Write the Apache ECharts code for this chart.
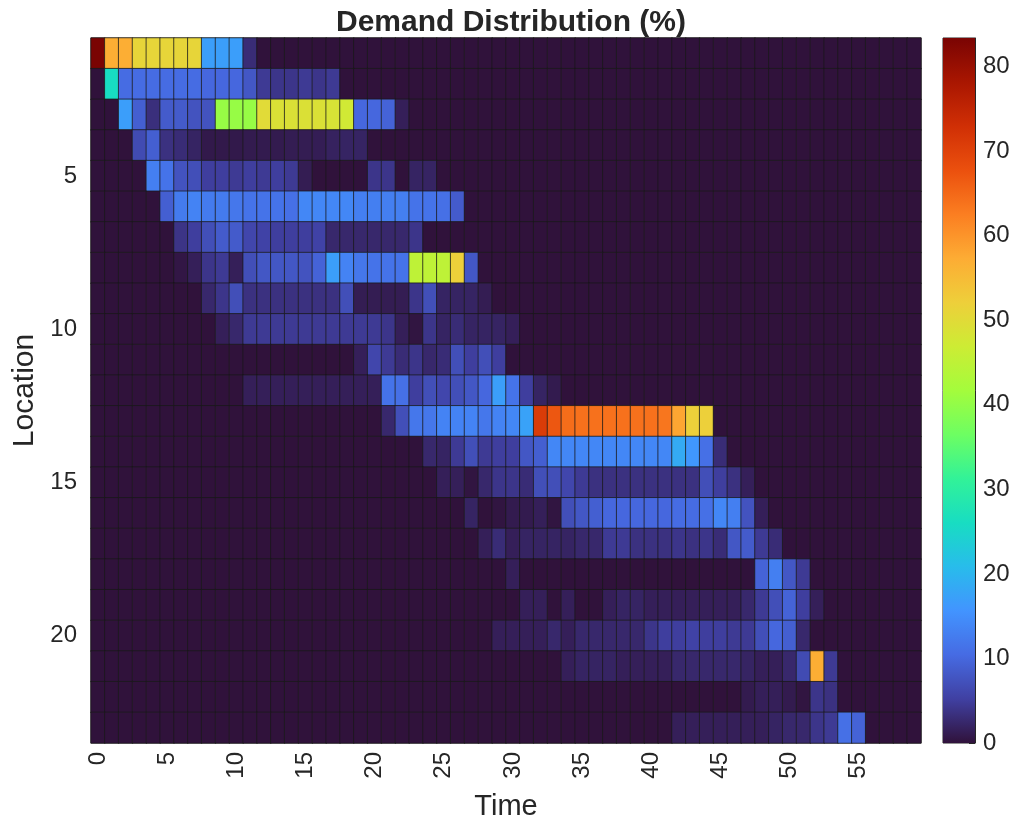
<!DOCTYPE html>
<html><head><meta charset="utf-8">
<script src="https://cdn.jsdelivr.net/npm/echarts@6/dist/echarts.min.js"></script>
<style>html,body{margin:0;padding:0;background:#fff}#chart{width:1025px;height:826px}</style>
</head><body><div id="chart"></div>
<script>
// ---- categories ----
const times = ['0','1','2','3','4','5','6','7','8','9','10','11','12','13','14','15','16','17','18','19',
  '20','21','22','23','24','25','26','27','28','29','30','31','32','33','34','35','36','37','38','39',
  '40','41','42','43','44','45','46','47','48','49','50','51','52','53','54','55','56','57','58','59'];
const locations = ['1','2','3','4','5','6','7','8','9','10','11','12','13','14','15','16','17','18','19','20','21','22','23'];
const colorTicks = [0,10,20,30,40,50,60,70,80];
const colorMax = 83.4;

// ---- demand (%) per location, time 0..59 ----
const loc01 = [83.4,57,57,51,51,51,51,51,17,17, 17,3,0,0,0,0,0,0,0,0, 0,0,0,0,0,0,0,0,0,0, 0,0,0,0,0,0,0,0,0,0, 0,0,0,0,0,0,0,0,0,0, 0,0,0,0,0,0,0,0,0,0];
const loc02 = [0,26,10.5,10.5,10.5,10.5,10.5,10.5,10,10, 10,8,4.5,4,4,4.5,4,4.5,0,0, 0,0,0,0,0,0,0,0,0,0, 0,0,0,0,0,0,0,0,0,0, 0,0,0,0,0,0,0,0,0,0, 0,0,0,0,0,0,0,0,0,0];
const loc03 = [0,0,17,9,3.3,8.5,8.5,7.5,7.5,40.5, 40.5,40.5,50,49,49,49,49,48.5,47.5,10, 10,9.5,1.5,0,0,0,0,0,0,0, 0,0,0,0,0,0,0,0,0,0, 0,0,0,0,0,0,0,0,0,0, 0,0,0,0,0,0,0,0,0,0];
const loc04 = [0,0,0,6.5,9,3.5,3,2,0.8,0.8, 0.8,1,1,1,1.2,1.2,1.3,1.8,2,2, 0,0,0,0,0,0,0,0,0,0, 0,0,0,0,0,0,0,0,0,0, 0,0,0,0,0,0,0,0,0,0, 0,0,0,0,0,0,0,0,0,0];
const loc05 = [0,0,0,0,13,11.5,7.5,7,5,5, 4.5,5,4.5,5,4.5,1.2,0,0,0,0, 4,4,0,2,2,0,0,0,0,0, 0,0,0,0,0,0,0,0,0,0, 0,0,0,0,0,0,0,0,0,0, 0,0,0,0,0,0,0,0,0,0];
const loc06 = [0,0,0,0,0,9,12.5,13.5,12.5,12.5, 12,11.5,11.5,11.5,11,14,14,14,14,13, 13,13,13,11.5,11.5,11,8.5,0,0,0, 0,0,0,0,0,0,0,0,0,0, 0,0,0,0,0,0,0,0,0,0, 0,0,0,0,0,0,0,0,0,0];
const loc07 = [0,0,0,0,0,0,3.8,5,7,8.5, 8.5,6,5.5,5,5,5,5.5,2.5,2.5,2.5, 2.5,2.5,2.5,4,0,0,0,0,0,0, 0,0,0,0,0,0,0,0,0,0, 0,0,0,0,0,0,0,0,0,0, 0,0,0,0,0,0,0,0,0,0];
const loc08 = [0,0,0,0,0,0,0.5,1.5,4,4.5, 1.5,7,8,8,8,7.5,9.5,17,13.5,12, 11.5,11.5,11.5,45,45,45,52,8,0,0, 0,0,0,0,0,0,0,0,0,0, 0,0,0,0,0,0,0,0,0,0, 0,0,0,0,0,0,0,0,0,0];
const loc09 = [0,0,0,0,0,0,0,0,2.5,4, 7,3.5,3.5,3.5,3.5,3.5,3.5,3.5,7,1.2, 1.2,1.2,1.2,4,7,2,2,2,1.2,0, 0,0,0,0,0,0,0,0,0,0, 0,0,0,0,0,0,0,0,0,0, 0,0,0,0,0,0,0,0,0,0];
const loc10 = [0,0,0,0,0,0,0,0,0,1.5, 2.5,4.5,4.5,4.5,4.5,4.5,4.5,4.5,4.5,4.5, 4.5,4,1.5,0.3,4,2,3,2,2,2, 1.5,0,0,0,0,0,0,0,0,0, 0,0,0,0,0,0,0,0,0,0, 0,0,0,0,0,0,0,0,0,0];
const loc11 = [0,0,0,0,0,0,0,0,0,0, 0,0,0,0,0,0,0,0,0,1.5, 6,4.5,3,4,2.5,3,7,5,7,5, 0,0,0,0,0,0,0,0,0,0, 0,0,0,0,0,0,0,0,0,0, 0,0,0,0,0,0,0,0,0,0];
const loc12 = [0,0,0,0,0,0,0,0,0,0, 0,1.5,1.5,1.5,1.5,1.5,1.5,1.5,1.5,1.5, 1.5,11.5,11,5,7,6,7,8,10,17, 11.5,5,2,1,0,0,0,0,0,0, 0,0,0,0,0,0,0,0,0,0, 0,0,0,0,0,0,0,0,0,0];
const loc13 = [0,0,0,0,0,0,0,0,0,0, 0,0,0,0,0,0,0,0,0,0, 0,2.5,7,12,12,13.5,13.5,13.5,12,13.5, 14,17.5,71,67,64.5,64,64,64,64,64, 64,63.5,58,52,52,0,0,0,0,0, 0,0,0,0,0,0,0,0,0,0];
const loc14 = [0,0,0,0,0,0,0,0,0,0, 0,0,0,0,0,0,0,0,0,0, 0,0,0,0,2.5,2,4.5,7,4.5,5, 5,8,9,14,14,14,14,14,14,14, 14,14,18.5,16,11,3,0,0,0,0, 0,0,0,0,0,0,0,0,0,0];
const loc15 = [0,0,0,0,0,0,0,0,0,0, 0,0,0,0,0,0,0,0,0,0, 0,0,0,0,0,1.5,1.5,0.3,2.5,4, 4,3,7,7,6,4.5,3.5,3.5,3.5,3.5, 3.5,3.5,3.5,3.5,7,5,3.5,1.5,0,0, 0,0,0,0,0,0,0,0,0,0];
const loc16 = [0,0,0,0,0,0,0,0,0,0, 0,0,0,0,0,0,0,0,0,0, 0,0,0,0,0,0,0,2,0,0.3, 1,1,1.5,0.3,7,8,9,10,10,10, 10,10,10.5,10.5,11,14,13,7.5,1.5,0, 0,0,0,0,0,0,0,0,0,0];
const loc17 = [0,0,0,0,0,0,0,0,0,0, 0,0,0,0,0,0,0,0,0,0, 0,0,0,0,0,0,0,0,1.5,3, 1.5,2,2,2,2,2.5,2.5,4.5,4.5,3.5, 3.5,3.5,4,3.5,4,3,8,8.5,4.5,3, 0,0,0,0,0,0,0,0,0,0];
const loc18 = [0,0,0,0,0,0,0,0,0,0, 0,0,0,0,0,0,0,0,0,0, 0,0,0,0,0,0,0,0,0,0, 1.5,0,0,0,0,0,0,0,0,0, 0,0,0,0,0,0,0,0,9.5,13, 8,4.5,0,0,0,0,0,0,0,0];
const loc19 = [0,0,0,0,0,0,0,0,0,0, 0,0,0,0,0,0,0,0,0,0, 0,0,0,0,0,0,0,0,0,0, 0,1.5,1.5,0,1.5,0,0,1.5,2,2, 1.5,1.5,1.5,1.5,1.5,1.5,1.5,2.5,4.5,7, 9.5,5,1.5,0,0,0,0,0,0,0];
const loc20 = [0,0,0,0,0,0,0,0,0,0, 0,0,0,0,0,0,0,0,0,0, 0,0,0,0,0,0,0,0,0,1.5, 1.5,1.5,1.5,2.5,1.5,2.5,2.5,2.5,2.5,2.5, 4,5,5,5.5,5,5,4.5,4.5,7,10, 9,2.5,0,0,0,0,0,0,0,0];
const loc21 = [0,0,0,0,0,0,0,0,0,0, 0,0,0,0,0,0,0,0,0,0, 0,0,0,0,0,0,0,0,0,0, 0,0,0,0,1.5,2,2,2,1.5,1.5, 1.5,1.5,2.5,2.5,2.5,2.5,2.5,2,1.5,1.5, 2.5,6.5,57,4.5,0,0,0,0,0,0];
const loc22 = [0,0,0,0,0,0,0,0,0,0, 0,0,0,0,0,0,0,0,0,0, 0,0,0,0,0,0,0,0,0,0, 0,0,0,0,0,0,0,0,0,0, 0,0,0,0,0,0,0,1,1.5,1.5, 1,0.3,4,3.5,0,0,0,0,0,0];
const loc23 = [0,0,0,0,0,0,0,0,0,0, 0,0,0,0,0,0,0,0,0,0, 0,0,0,0,0,0,0,0,0,0, 0,0,0,0,0,0,0,0,0,0, 0,0,1.5,1.5,1.5,1.5,1.5,1.5,1.5,2, 2.5,2.5,4,4.5,11,9.5,0,0,0,0];
const demandRows = [loc01,loc02,loc03,loc04,loc05,loc06,loc07,loc08,loc09,loc10,loc11,loc12,
  loc13,loc14,loc15,loc16,loc17,loc18,loc19,loc20,loc21,loc22,loc23];

// turbo colormap stops
const turbo = ['#30123b','#4040a2','#466be3','#4294ff','#28bceb','#18ddc2','#32f298','#6dfe62',
  '#a4fc3c','#cdec34','#eecf3a','#fdac34','#fb7e21','#eb500e','#d02f05','#a91601','#7a0403'];

const heatData = [];
demandRows.forEach((row, r) => row.forEach((v, c) => heatData.push([c, r, v])));

const FONT = "'Liberation Sans', Arial, Helvetica, sans-serif";
const TXT = '#262626';

const chart = echarts.init(document.getElementById('chart'), null, {renderer: 'canvas'});
chart.setOption({
  animation: false,
  backgroundColor: '#ffffff',
  textStyle: {fontFamily: FONT, color: TXT},
  title: {
    text: 'Demand Distribution (%)', left: 506, top: 3, textAlign: 'center',
    textStyle: {fontFamily: FONT, fontSize: 30, fontWeight: 'bold', color: TXT}
  },
  grid: [
    {left: 91, top: 38, width: 830, height: 705, show: true, borderColor: '#666666', borderWidth: 1, backgroundColor: 'transparent'},
    {left: 943, top: 38, width: 32, height: 705, show: true, borderColor: TXT, borderWidth: 1}
  ],
  xAxis: [
    {
      type: 'category', data: times, gridIndex: 0,
      axisLine: {show: false}, axisTick: {show: false}, splitLine: {show: false},
      axisLabel: {interval: (i) => i % 5 === 0, rotate: 90, fontSize: 24, color: TXT, fontFamily: FONT, margin: 9},
      name: 'Time', nameLocation: 'middle', nameGap: 49,
      nameTextStyle: {fontSize: 29, color: TXT, fontFamily: FONT}
    },
    {type: 'category', data: ['cb'], gridIndex: 1, show: false}
  ],
  yAxis: [
    {
      type: 'category', data: locations, gridIndex: 0, inverse: true,
      axisLine: {show: false}, axisTick: {show: false}, splitLine: {show: false},
      axisLabel: {interval: (i, v) => Number(v) % 5 === 0, fontSize: 24, color: TXT, fontFamily: FONT, margin: 14},
      name: 'Location', nameLocation: 'middle', nameGap: 51,
      nameTextStyle: {fontSize: 30, color: TXT, fontFamily: FONT}
    },
    {
      type: 'value', gridIndex: 1, position: 'right', min: 0, max: colorMax, interval: 10,
      axisLine: {show: true, lineStyle: {color: TXT}},
      axisTick: {show: true, inside: true, length: 6, lineStyle: {color: TXT}},
      splitLine: {show: false},
      axisLabel: {
        fontSize: 24, color: TXT, fontFamily: FONT, margin: 8, showMaxLabel: false,
        formatter: (v) => colorTicks.indexOf(v) >= 0 ? String(v) : ''
      }
    }
  ],
  visualMap: {
    type: 'continuous', show: false, min: 0, max: colorMax, seriesIndex: 0, dimension: 2,
    inRange: {color: turbo}
  },
  series: [
    {
      type: 'heatmap', xAxisIndex: 0, yAxisIndex: 0, data: heatData,
      itemStyle: {borderColor: 'rgba(25,25,25,0.75)', borderWidth: 1},
      emphasis: {disabled: true}
    },
    {
      type: 'bar', xAxisIndex: 1, yAxisIndex: 1, data: [colorMax], barWidth: '100%',
      itemStyle: {
        color: new echarts.graphic.LinearGradient(0, 1, 0, 0,
          turbo.map((c, i) => ({offset: i / (turbo.length - 1), color: c})))
      },
      silent: true
    }
  ]
});
</script>
</body></html>
